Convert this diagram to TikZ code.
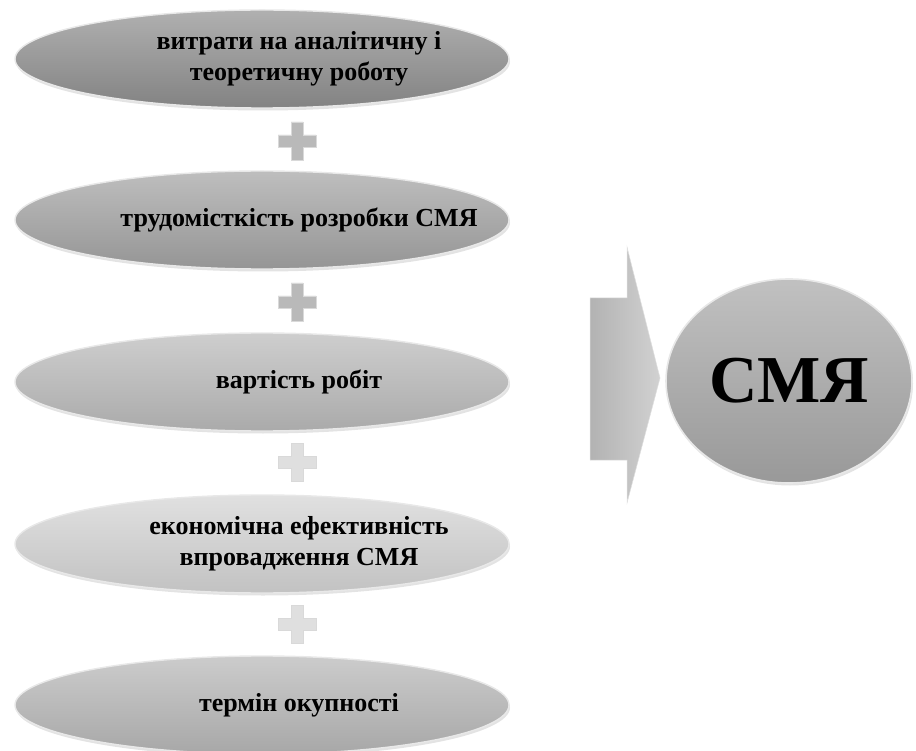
\documentclass[tikz,border=0pt]{standalone}
\usepackage{fontspec}
\setmainfont{Liberation Serif}
\usetikzlibrary{shapes.geometric,shadows}

\definecolor{grayA}{HTML}{8E8E8E}
\definecolor{grayB}{HTML}{A2A2A2}
\definecolor{grayC}{HTML}{B9B9B9}
\definecolor{grayD}{HTML}{D3D3D3}
\definecolor{grayE}{HTML}{B6B6B6}
\definecolor{grayO}{HTML}{A6A6A6}
\definecolor{grayArrow}{HTML}{C6C6C6}

\tikzset{
	oval/.style={ellipse, minimum width=494pt, minimum height=98pt, inner sep=0pt,
		draw=white!82!gray, line width=1.4pt, top color=#1!70!white, middle color=#1,
		bottom color=#1!92!black,
		drop shadow={opacity=0.22, shadow xshift=1pt, shadow yshift=-2.5pt}},
	ovaltext/.style={font=\fontsize{26}{31}\selectfont\bfseries, align=center, inner sep=0pt},
	plussign/.style={fill=#1, draw=white!70!gray, line width=0.4pt}
}

\newcommand{\plusat}[3]{%
	\path[plussign=#3] (#1,#2) ++(-6,-19) -- ++(12,0) -- ++(0,13) -- ++(13,0) -- ++(0,12)
		-- ++(-13,0) -- ++(0,13) -- ++(-12,0) -- ++(0,-13) -- ++(-13,0) -- ++(0,-12)
		-- ++(13,0) -- cycle;}

\begin{document}
\begin{tikzpicture}[x=1pt,y=-1pt]
	\useasboundingbox (0,0) rectangle (916,751);

	% ovals
	\node[oval=grayA] (cost) at (262,59) {};
	\node[oval=grayB] (labour) at (262,220) {};
	\node[oval=grayC] (price) at (262,382) {};
	\node[oval=grayD] (effect) at (262,544) {};
	\node[oval=grayE] (payback) at (262,705) {};

	% oval texts
	\node[ovaltext] (costtext) at ([xshift=37pt]cost.center) {витрати на аналітичну і\\теоретичну роботу};
	\node[ovaltext] (labourtext) at ([xshift=37pt]labour.center) {трудомісткість розробки СМЯ};
	\node[ovaltext] (pricetext) at ([xshift=37pt]price.center) {вартість робіт};
	\node[ovaltext] (effecttext) at ([xshift=37pt]effect.center) {економічна ефективність\\впровадження СМЯ};
	\node[ovaltext] (paybacktext) at ([xshift=37pt]payback.center) {термін окупності};

	% plus signs
	\plusat{297}{141}{grayC}
	\plusat{297}{302}{grayC}
	\plusat{297}{462}{gray!25}
	\plusat{297}{624}{gray!25}

	% arrow
	\path[left color=grayArrow!90!black, right color=grayArrow!80!white,
		draw=white!75!gray, line width=0.5pt]
		(590,298) -- (627,298) -- (627,247) -- (660,378) -- (627,503)
		-- (627,460) -- (590,460) -- cycle;

	% result
	\node[ellipse, minimum width=246pt, minimum height=204pt, draw=white!82!gray,
		line width=1.6pt, top color=grayO!70!white, middle color=grayO, bottom color=grayO!92!black,
		drop shadow={opacity=0.22, shadow xshift=1pt, shadow yshift=-2.5pt},
		font=\fontsize{67}{70}\selectfont\bfseries] (sms) at (789,381) {СМЯ};

\end{tikzpicture}
\end{document}
